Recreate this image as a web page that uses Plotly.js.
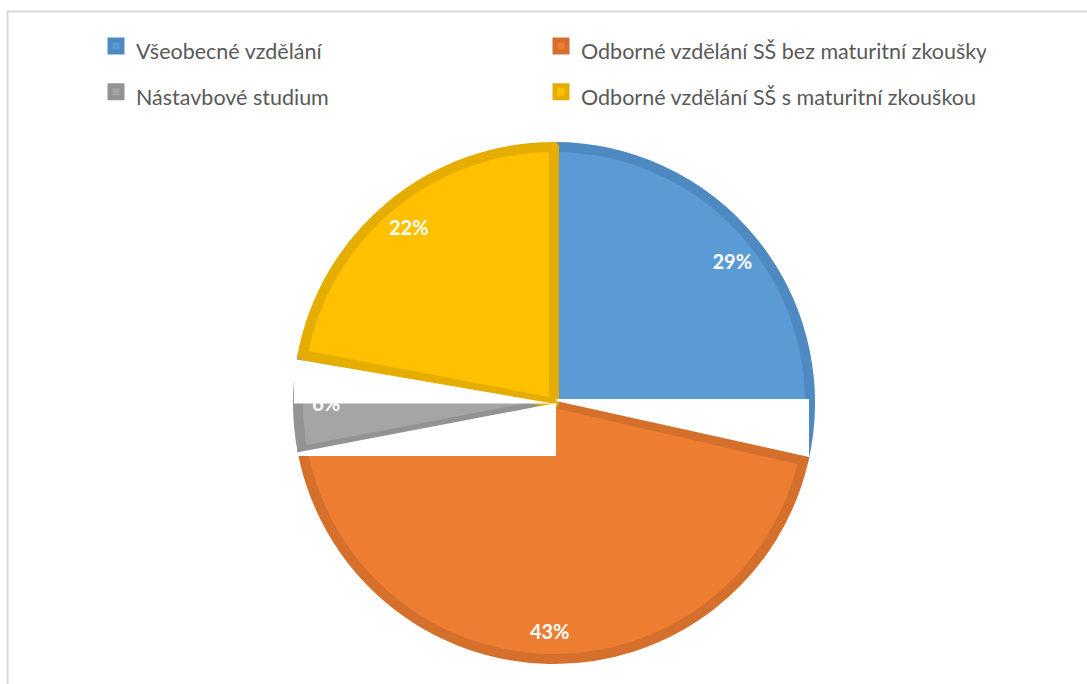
<!DOCTYPE html>
<html>
<head>
<meta charset="utf-8">
<script src="https://cdn.plot.ly/plotly-3.0.1.min.js"></script>
<style>
  html, body { margin: 0; padding: 0; background: #ffffff; }
  #chart { width: 1087px; height: 684px; }
</style>
</head>
<body>
<div id="chart"></div>
<script>
// ---- data ----
const categories = [
  'Všeobecné vzdělání',
  'Odborné vzdělání SŠ bez maturitní zkoušky',
  'Nástavbové studium',
  'Odborné vzdělání SŠ s maturitní zkouškou'
];
const shares = [28.6, 43.4, 6.0, 22.0];

// ---- styles ----
const fillColors = ['#5B9BD5', '#ED7D31', '#A5A5A5', '#FFC000'];
const edgeColors = ['#4E89C2', '#D46F2C', '#939393', '#E5AD00'];

const W = 1087, H = 684;
// pie geometry in pixels (centre and radius of slice path)
const cx = 554, cy = 403, R = 256;
const dom = {
  x: [(cx - R) / W, (cx + R) / W],
  y: [1 - (cy + R) / H, 1 - (cy - R) / H]
};

// legend text is drawn at 21.5px while the legend line height is set larger,
// which gives the wider row spacing of the original legend
const legendLabels = categories.map(c => '<span style="font-size:21.5px">' + c + '</span>');

const pieTrace = {
  type: 'pie',
  labels: legendLabels,
  values: shares,
  sort: false,
  direction: 'clockwise',
  rotation: 0,
  domain: dom,
  marker: { colors: fillColors, line: { color: edgeColors, width: 10 } },
  textinfo: 'none',
  hoverinfo: 'none',
  showlegend: true
};

// transparent ring used only to place the percentage labels near the rim
const labelTrace = {
  type: 'pie',
  labels: categories,
  values: shares,
  sort: false,
  direction: 'clockwise',
  rotation: 0,
  hole: 0.78,
  domain: dom,
  marker: { colors: categories.map(() => 'rgba(0,0,0,0)'), line: { width: 0 } },
  texttemplate: '%{percent:.0%}',
  textposition: 'inside',
  insidetextorientation: 'horizontal',
  insidetextfont: { family: 'Lato, sans-serif', size: 20, color: '#ffffff', weight: 'bold' },
  hoverinfo: 'none',
  showlegend: false
};

function path(pts) {
  return pts.map((p, i) => (i ? 'L' : 'M') + (p[0] / W).toFixed(5) + ',' + (1 - p[1] / H).toFixed(5)).join(' ') + ' Z';
}
const whiteFill = { type: 'path', xref: 'paper', yref: 'paper', fillcolor: '#ffffff', line: { width: 0 }, layer: 'above' };

const shapes = [
  // rendering gaps of the original picture
  Object.assign({}, whiteFill, { path: path([[294, 359], [553, 403.5], [294, 403.5]]) }),
  Object.assign({}, whiteFill, { path: path([[556, 403], [556, 456], [294, 456], [294, 453]]) }),
  Object.assign({}, whiteFill, { path: path([[556, 399], [809, 399], [809, 457], [556, 401]]) }),
  // chart frame (top and left edges visible)
  { type: 'line', xref: 'paper', yref: 'paper', x0: 7 / W, x1: 1, y0: 1 - 11.5 / H, y1: 1 - 11.5 / H, line: { color: '#D9D9D9', width: 2 } },
  { type: 'line', xref: 'paper', yref: 'paper', x0: 7.5 / W, x1: 7.5 / W, y0: 1 - 11 / H, y1: 0, line: { color: '#D9D9D9', width: 2 } }
];

const layout = {
  width: W,
  height: H,
  margin: { l: 0, r: 0, t: 0, b: 0 },
  paper_bgcolor: '#ffffff',
  plot_bgcolor: '#ffffff',
  showlegend: true,
  legend: {
    orientation: 'h',
    x: 96 / W,
    xanchor: 'left',
    y: 1 - 18 / H,
    yanchor: 'top',
    entrywidth: 400,
    entrywidthmode: 'pixels',
    traceorder: 'normal',
    font: { family: 'Lato, sans-serif', size: 33, color: '#595959' },
    bgcolor: 'rgba(0,0,0,0)'
  },
  shapes: shapes
};

Plotly.newPlot('chart', [pieTrace, labelTrace], layout, { displayModeBar: false, staticPlot: true });
</script>
</body>
</html>
